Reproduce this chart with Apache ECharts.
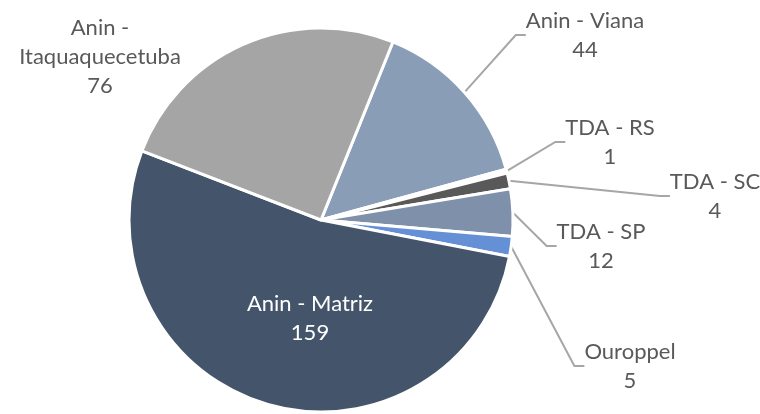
<!DOCTYPE html>
<html>
<head>
<meta charset="utf-8">
<script src="https://cdn.jsdelivr.net/npm/echarts@6/dist/echarts.min.js"></script>
<style>
  html, body { margin: 0; padding: 0; background: #fff; }
  #main { width: 760px; height: 414px; }
</style>
</head>
<body>
<div id="main"></div>
<script type="text/javascript">
// slices, clockwise from the Viana slice
var names = ['Anin - Viana', 'TDA - RS', 'TDA - SC', 'TDA - SP', 'Ouroppel', 'Anin - Matriz', 'Anin -\nItaquaquecetuba'];
var values = [44, 1, 4, 12, 5, 159, 76];
var colors = ['#8A9DB6', '#FFFFFF', '#595959', '#7E90AA', '#6590D6', '#44546A', '#A5A5A5'];

// label centres (px), same order as names
var labelPos = [[585, 35], [610, 142], [715, 196], [601, 246], [630, 366], [310, 318], [100, 57]];

var chart = echarts.init(document.getElementById('main'));

var data = names.map(function (n, i) {
    var item = {
        name: n,
        value: values[i],
        itemStyle: { color: colors[i] }
    };
    if (i === 5) {
        item.label = { color: '#fff' };
        item.labelLine = { show: false };
    }
    if (i === 6) {
        item.labelLine = { show: false };
    }
    return item;
});

chart.setOption({
    animation: false,
    series: [{
        type: 'pie',
        center: [321, 220],
        radius: 192,
        startAngle: 68,
        clockwise: true,
        avoidLabelOverlap: false,
        itemStyle: { borderColor: '#fff', borderWidth: 3 },
        label: {
            show: true,
            formatter: '{b}\n{c}',
            fontFamily: 'Lato',
            fontSize: 22,
            lineHeight: 29,
            color: '#595959',
            align: 'center'
        },
        labelLine: {
            show: true,
            length: 10,
            length2: 10,
            lineStyle: { color: '#A6A6A6', width: 2 }
        },
        labelLayout: function (p) {
            var pos = labelPos[p.dataIndex];
            return {
                x: pos[0],
                y: pos[1],
                align: 'center',
                verticalAlign: 'middle'
            };
        },
        data: data
    }]
});
</script>
</body>
</html>
